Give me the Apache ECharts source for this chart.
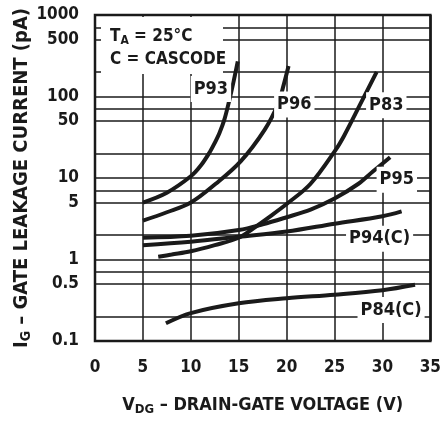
<!DOCTYPE html>
<html>
<head>
<meta charset="utf-8">
<script src="https://cdn.jsdelivr.net/npm/echarts@6/dist/echarts.min.js"></script>
<style>
html, body { margin: 0; padding: 0; background: #fff; }
#chart { width: 444px; height: 421px; }
</style>
</head>
<body>
<div id="chart"></div>
<script>
// curves: [V_DG (V), I_G (pA)]
const P93 = [[5, 5.0], [7.5, 6.6], [10, 10.5], [11, 14], [12, 21], [12.5, 27], [13, 36], [13.5, 52], [14, 88], [14.5, 160], [14.9, 270]]
const P96 = [[5, 3.0], [7.5, 3.8], [10, 5.0], [12.6, 8.5], [15.2, 16], [17.7, 39], [19.1, 81], [19.7, 140], [20.2, 236]]
const P83 = [[6.6, 1.08], [8, 1.15], [10, 1.26], [12.5, 1.5], [15, 1.85], [16.5, 2.4], [18, 3.2], [20.2, 5.0], [22.5, 8.5], [25.1, 22], [26, 33], [27.7, 81], [29.4, 200]]
const P95 = [[5, 1.85], [10, 1.95], [15, 2.3], [17.5, 2.7], [20, 3.3], [22.5, 4.1], [25, 5.6], [27.5, 8.5], [29, 12], [30.8, 18]]
const P94C = [[5, 1.5], [10, 1.65], [15, 1.9], [20, 2.2], [25, 2.75], [30, 3.4], [32, 3.9]]
const P84C = [[7.4, 0.165], [10, 0.22], [15, 0.29], [20, 0.335], [25, 0.37], [30, 0.42], [33.4, 0.49]]

const curveNames = ['P93', 'P96', 'P83', 'P95', 'P94(C)', 'P84(C)']
const curveData = [P93, P96, P83, P95, P94C, P84C]

// horizontal rulings and the y tick labels
const gridValues = [0.2, 0.5, 0.7, 1, 2, 5, 7, 10, 20, 50, 70, 100, 200, 500, 700]
const yLabels = [0.1, 0.5, 1, 5, 10, 50, 100, 500, 1000]

// where the curve names sit (data coords)
const labelSpots = [[12.1, 124], [20.8, 80], [30.4, 78], [31.5, 9.5], [29.7, 1.8], [30.9, 0.24]]

const font = '"DejaVu Sans Condensed", "Liberation Sans Narrow", "DejaVu Sans", sans-serif'
const ink = '#1a1a1a'

const series = []
// grid rulings
series.push({
  type: 'line',
  data: [],
  silent: true,
  z: 1,
  markLine: {
    silent: true,
    symbol: 'none',
    animation: false,
    lineStyle: { color: ink, width: 1.5, type: 'solid' },
    label: { show: false },
    emphasis: { disabled: true },
    data: gridValues.map(v => ({ yAxis: v }))
  }
})
// y tick labels
series.push({
  type: 'line',
  data: [],
  silent: true,
  z: 1,
  markLine: {
    silent: true,
    symbol: 'none',
    animation: false,
    lineStyle: { color: 'rgba(0,0,0,0)', width: 0 },
    label: {
      show: true,
      position: 'start',
      distance: 16,
      formatter: p => String(p.value),
      color: ink,
      fontFamily: font,
      fontWeight: 'bold',
      fontSize: 17
    },
    emphasis: { disabled: true },
    data: yLabels.map(v => ({ yAxis: v }))
  }
})

curveData.forEach((d, i) => {
  series.push({
    name: curveNames[i],
    type: 'line',
    data: d,
    smooth: 0.35,
    showSymbol: false,
    animation: false,
    z: 3,
    lineStyle: { color: ink, width: 4 },
    markPoint: {
      symbol: 'circle',
      symbolSize: 0,
      animation: false,
      label: {
        show: true,
        position: 'inside',
        formatter: curveNames[i],
        color: ink,
        fontFamily: font,
        fontWeight: 'bold',
        fontSize: 18,
        backgroundColor: '#fff',
        padding: [4, 3]
      },
      data: [{ coord: labelSpots[i] }]
    }
  })
})

const option = {
  backgroundColor: '#fff',
  animation: false,
  grid: {
    left: 95,
    right: 10,
    top: 15,
    bottom: 68,
    show: true,
    borderColor: ink,
    borderWidth: 2.5,
    backgroundColor: 'transparent'
  },
  xAxis: {
    type: 'value',
    min: 0,
    max: 35,
    interval: 5,
    name: '{t|V}{s|DG}{t| – DRAIN-GATE VOLTAGE (V)}',
    nameLocation: 'middle',
    nameGap: 54,
    nameTextStyle: {
      rich: {
        t: { fontFamily: font, fontWeight: 'bold', fontSize: 18, color: ink },
        s: { fontFamily: font, fontWeight: 'bold', fontSize: 13, color: ink, verticalAlign: 'bottom', padding: [8, 0, 0, 0] }
      }
    },
    axisLine: { show: false },
    axisTick: { show: false },
    axisLabel: { color: ink, fontFamily: font, fontWeight: 'bold', fontSize: 17, margin: 18 },
    splitLine: { show: true, lineStyle: { color: ink, width: 1.5 } }
  },
  yAxis: {
    type: 'log',
    logBase: 10,
    min: 0.1,
    max: 1000,
    name: '{t|I}{s|G}{t| – GATE LEAKAGE CURRENT (pA)}',
    nameLocation: 'middle',
    nameGap: 62,
    nameTextStyle: {
      rich: {
        t: { fontFamily: font, fontWeight: 'bold', fontSize: 20, color: ink },
        s: { fontFamily: font, fontWeight: 'bold', fontSize: 14, color: ink, verticalAlign: 'bottom', padding: [9, 0, 0, 0] }
      }
    },
    axisLine: { show: false },
    axisTick: { show: false },
    axisLabel: { show: false },
    splitLine: { show: false }
  },
  graphic: [
    { type: 'rect', z: 100, shape: { x: 101, y: 17, width: 122, height: 57 }, style: { fill: '#fff' } },
    {
      type: 'text', z: 101, x: 110, y: 27,
      style: {
        text: '{t|T}{s|A}{t| = 25°C}',
        rich: {
          t: { fontFamily: font, fontWeight: 'bold', fontSize: 17, fill: ink },
          s: { fontFamily: font, fontWeight: 'bold', fontSize: 12, fill: ink, verticalAlign: 'bottom', padding: [8, 0, 0, 0] }
        }
      }
    },
    {
      type: 'text', z: 101, x: 110, y: 51,
      style: { text: 'C = CASCODE', fontFamily: font, fontWeight: 'bold', fontSize: 17, fill: ink }
    }
  ],
  series: series
}

const chart = echarts.init(document.getElementById('chart'))
chart.setOption(option)
</script>
</body>
</html>
